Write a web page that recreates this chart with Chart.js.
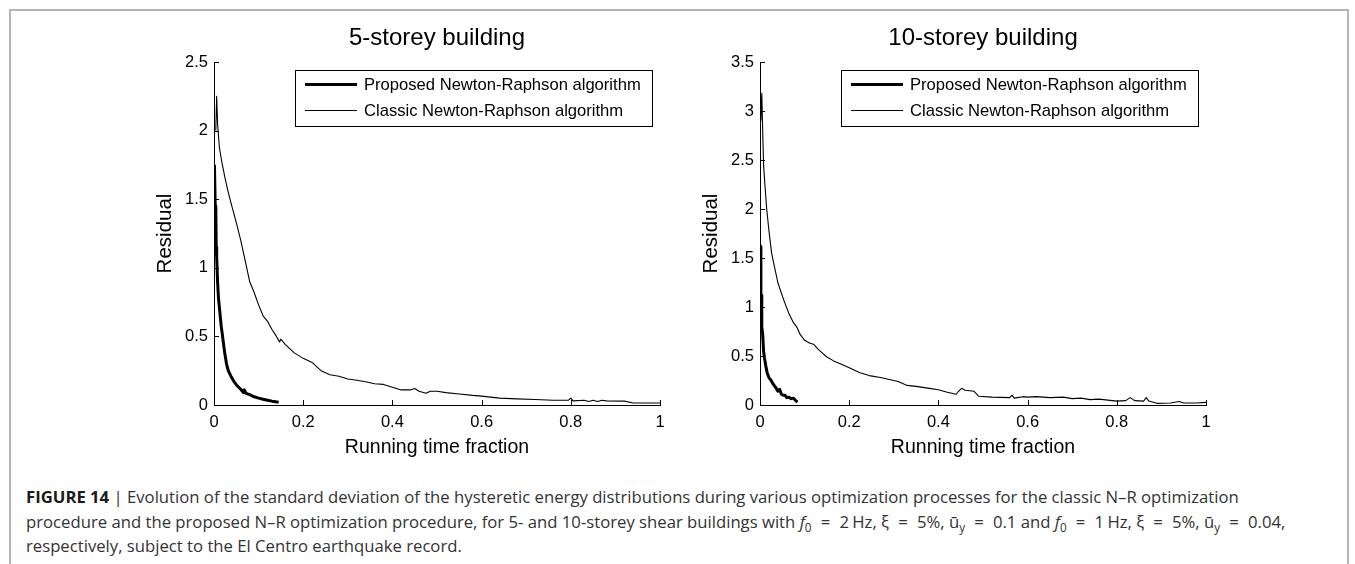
<!DOCTYPE html>
<html>
<head>
<meta charset="utf-8">
<script src="https://cdn.jsdelivr.net/npm/chart.js@4.4.1/dist/chart.umd.min.js"></script>
<style>
  html, body { margin:0; padding:0; background:#fff; width:1355px; height:564px; overflow:hidden; }
  #frame { position:absolute; left:9px; top:9px; width:1340px; height:600px; border:2px solid #b4b4b4; box-sizing:border-box; }
  canvas { position:absolute; top:10px; }
  #c1 { left:130px; }
  #c2 { left:676px; }
  #caption { position:absolute; left:26px; top:485px; font-family:"Open Sans", "Liberation Sans", sans-serif; font-size:16.7px; line-height:24.5px; color:#333; white-space:nowrap; }
  #caption b { color:#1a1a1a; }
  #caption sub { font-size:70%; line-height:0; vertical-align:-0.3em; }
  #caption .eq { margin:0 0.55em; }
  #caption .u { margin-left:0.2em; }
</style>
</head>
<body>
<div id="frame"></div>
<canvas id="c1" width="560" height="450"></canvas>
<canvas id="c2" width="560" height="450"></canvas>
<div id="caption"><b>FIGURE 14</b> | Evolution of the standard deviation of the hysteretic energy distributions during various optimization processes for the classic N–R optimization<br>procedure and the proposed N–R optimization procedure, for 5- and 10-storey shear buildings with <i>f</i><sub>0</sub><span class="eq">=</span>2<span class="u">Hz</span>, ξ<span class="eq">=</span>5%, ū<sub>y</sub><span class="eq">=</span>0.1 and <i>f</i><sub>0</sub><span class="eq">=</span>1<span class="u">Hz</span>, ξ<span class="eq">=</span>5%, ū<sub>y</sub><span class="eq">=</span>0.04,<br>respectively, subject to the El Centro earthquake record.</div>
<script>
// ---------- DATA ----------
const titles = ["5-storey building", "10-storey building"];
const seriesNames = ["Proposed Newton-Raphson algorithm", "Classic Newton-Raphson algorithm"];
const xTitle = "Running time fraction";
const yTitle = "Residual";
const xTicks = [0, 0.2, 0.4, 0.6, 0.8, 1];
const xTickLabels = ["0", "0.2", "0.4", "0.6", "0.8", "1"];
const yTicks5 = [0, 0.5, 1, 1.5, 2, 2.5];
const yTickLabels5 = ["0", "0.5", "1", "1.5", "2", "2.5"];
const yTicks10 = [0, 0.5, 1, 1.5, 2, 2.5, 3, 3.5];
const yTickLabels10 = ["0", "0.5", "1", "1.5", "2", "2.5", "3", "3.5"];

// 5-storey, proposed
const prop5X = [0.001,0.003,0.004,0.005,0.006,0.008,0.010,0.013,0.016,0.020,0.024,0.028,0.032,0.038,0.045,0.052,0.060,0.066,0.068,0.072,0.080,0.090,0.100,0.110,0.120,0.130,0.145];
const prop5Y = [1.75,1.40,1.45,1.15,1.08,0.90,0.78,0.68,0.58,0.48,0.38,0.30,0.25,0.21,0.17,0.14,0.115,0.09,0.11,0.085,0.075,0.06,0.05,0.042,0.035,0.028,0.02];
// 5-storey, classic
const class5X = [0.004,0.006,0.008,0.012,0.017,0.025,0.032,0.040,0.050,0.060,0.070,0.080,0.090,0.100,0.110,0.120,0.130,0.140,0.147,0.150,0.160,0.180,0.200,0.220,0.230,0.240,0.260,0.280,0.300,0.320,0.340,0.360,0.380,0.400,0.420,0.440,0.450,0.460,0.475,0.485,0.500,0.520,0.550,0.580,0.600,0.640,0.680,0.720,0.760,0.795,0.800,0.805,0.830,0.840,0.850,0.860,0.870,0.880,0.920,0.940,1.000];
const class5Y = [2.00,2.25,2.05,1.88,1.78,1.65,1.55,1.45,1.33,1.20,1.05,0.90,0.82,0.73,0.65,0.61,0.55,0.50,0.46,0.48,0.44,0.38,0.34,0.31,0.28,0.25,0.22,0.21,0.19,0.18,0.17,0.155,0.15,0.13,0.11,0.11,0.12,0.10,0.085,0.10,0.10,0.09,0.08,0.07,0.065,0.05,0.045,0.04,0.035,0.035,0.05,0.03,0.035,0.025,0.035,0.025,0.035,0.03,0.028,0.015,0.015];
// 10-storey, proposed
const prop10X = [0.000,0.002,0.003,0.004,0.006,0.008,0.010,0.013,0.016,0.020,0.025,0.030,0.035,0.040,0.044,0.048,0.052,0.056,0.060,0.065,0.070,0.075,0.080,0.084];
const prop10Y = [1.62,1.10,1.12,0.80,0.72,0.55,0.48,0.40,0.33,0.28,0.25,0.21,0.18,0.14,0.16,0.11,0.10,0.10,0.075,0.08,0.065,0.07,0.045,0.03];
// 10-storey, classic
const class10X = [0.002,0.004,0.006,0.008,0.011,0.015,0.020,0.026,0.032,0.040,0.048,0.055,0.065,0.075,0.082,0.090,0.100,0.112,0.120,0.130,0.140,0.150,0.165,0.180,0.200,0.224,0.245,0.270,0.290,0.310,0.330,0.350,0.380,0.400,0.420,0.440,0.445,0.452,0.460,0.480,0.490,0.520,0.560,0.565,0.570,0.590,0.600,0.620,0.650,0.680,0.700,0.720,0.740,0.760,0.780,0.800,0.820,0.830,0.840,0.860,0.866,0.872,0.890,0.920,0.940,0.950,0.980,1.000];
const class10Y = [2.90,3.18,2.80,2.45,2.25,2.00,1.78,1.55,1.42,1.25,1.14,1.05,0.93,0.84,0.80,0.72,0.66,0.63,0.62,0.57,0.53,0.49,0.45,0.42,0.38,0.33,0.30,0.28,0.26,0.24,0.20,0.19,0.17,0.155,0.13,0.11,0.14,0.17,0.15,0.14,0.09,0.08,0.075,0.10,0.07,0.085,0.08,0.085,0.075,0.08,0.065,0.07,0.055,0.06,0.05,0.04,0.045,0.075,0.045,0.04,0.075,0.04,0.017,0.02,0.035,0.02,0.02,0.027];

// ---------- CHART ----------
const FONT = '"Liberation Sans", Arial, sans-serif';
const toPts = (xs, ys) => xs.map((x, i) => ({x: x, y: ys[i]}));

const innerTicks = {
  id: 'innerTicks',
  afterDraw(chart) {
    const ctx = chart.ctx, a = chart.chartArea;
    const xs = chart.scales.x, ys = chart.scales.y;
    ctx.save();
    ctx.strokeStyle = '#000';
    ctx.lineWidth = 1;
    ctx.beginPath();
    xs.ticks.forEach(t => {
      const px = Math.round(xs.getPixelForValue(t.value)) + 0.5;
      ctx.moveTo(px, a.bottom); ctx.lineTo(px, a.bottom - 5);
    });
    ys.ticks.forEach(t => {
      const py = Math.round(ys.getPixelForValue(t.value)) + 0.5;
      ctx.moveTo(a.left, py); ctx.lineTo(a.left + 5, py);
    });
    ctx.stroke();
    ctx.restore();
  }
};

const boxLegend = {
  id: 'boxLegend',
  afterDraw(chart) {
    const ctx = chart.ctx, a = chart.chartArea;
    const w = 357, h = 56;
    const left = a.right - 8 - w, top = a.top + 8;
    ctx.save();
    ctx.fillStyle = '#fff';
    ctx.fillRect(left, top, w, h);
    ctx.strokeStyle = '#000';
    ctx.lineWidth = 1;
    ctx.strokeRect(Math.round(left) + 0.5, Math.round(top) + 0.5, w, h);
    ctx.font = '16.6px ' + FONT;
    ctx.fillStyle = '#000';
    ctx.textBaseline = 'middle';
    chart.data.datasets.forEach((ds, i) => {
      const y = top + 14.5 + i * 26;
      ctx.beginPath();
      ctx.lineWidth = ds.borderWidth;
      ctx.strokeStyle = ds.borderColor;
      ctx.moveTo(left + 10, y); ctx.lineTo(left + 62, y);
      ctx.stroke();
      ctx.fillText(ds.label, left + 69, y + 1);
    });
    ctx.restore();
  }
};

function makeChart(id, title, propX, propY, clsX, clsY, yMax, yTicks, yLabels) {
  return new Chart(document.getElementById(id), {
    type: 'line',
    data: {
      datasets: [
        { label: seriesNames[0], data: toPts(propX, propY), borderColor: '#000', borderWidth: 3, pointRadius: 0, fill: false },
        { label: seriesNames[1], data: toPts(clsX, clsY), borderColor: '#000', borderWidth: 1.1, pointRadius: 0, fill: false }
      ]
    },
    options: {
      responsive: false,
      animation: false,
      events: [],
      layout: { padding: { left: 0, right: 30, top: 0, bottom: 0 } },
      elements: { line: { tension: 0, borderJoinStyle: 'round' } },
      plugins: {
        legend: { display: false },
        tooltip: { enabled: false },
        title: {
          display: true, text: title, fullSize: false, color: '#000',
          font: { family: FONT, size: 24, weight: 'normal', lineHeight: 1.2 },
          padding: { top: 13.6, bottom: 9.6 }
        }
      },
      scales: {
        x: {
          type: 'linear', min: 0, max: 1,
          afterBuildTicks: s => { s.ticks = xTicks.map(v => ({ value: v })); },
          ticks: { callback: (v, i) => xTickLabels[i], color: '#000', font: { family: FONT, size: 16.5 }, padding: 8, maxRotation: 0, autoSkip: false },
          grid: { display: false, drawTicks: false },
          border: { display: true, color: '#000', width: 1 },
          title: { display: true, text: xTitle, color: '#000', font: { family: FONT, size: 19.5 }, padding: { top: 0, bottom: 1 } },
          afterFit: s => { s.height = 55; }
        },
        y: {
          type: 'linear', min: 0, max: yMax,
          afterBuildTicks: s => { s.ticks = yTicks.map(v => ({ value: v })); },
          ticks: { callback: (v, i) => yLabels[i], color: '#000', font: { family: FONT, size: 16.5 }, padding: 6, autoSkip: false },
          grid: { display: false, drawTicks: false },
          border: { display: true, color: '#000', width: 1 },
          title: { display: true, text: yTitle, color: '#000', font: { family: FONT, size: 20.5 }, padding: { top: 23, bottom: 0 } },
          afterFit: s => { s.width = 84; }
        }
      }
    },
    plugins: [innerTicks, boxLegend]
  });
}

makeChart('c1', titles[0], prop5X, prop5Y, class5X, class5Y, 2.5, yTicks5, yTickLabels5);
makeChart('c2', titles[1], prop10X, prop10Y, class10X, class10Y, 3.5, yTicks10, yTickLabels10);
</script>
</body>
</html>
